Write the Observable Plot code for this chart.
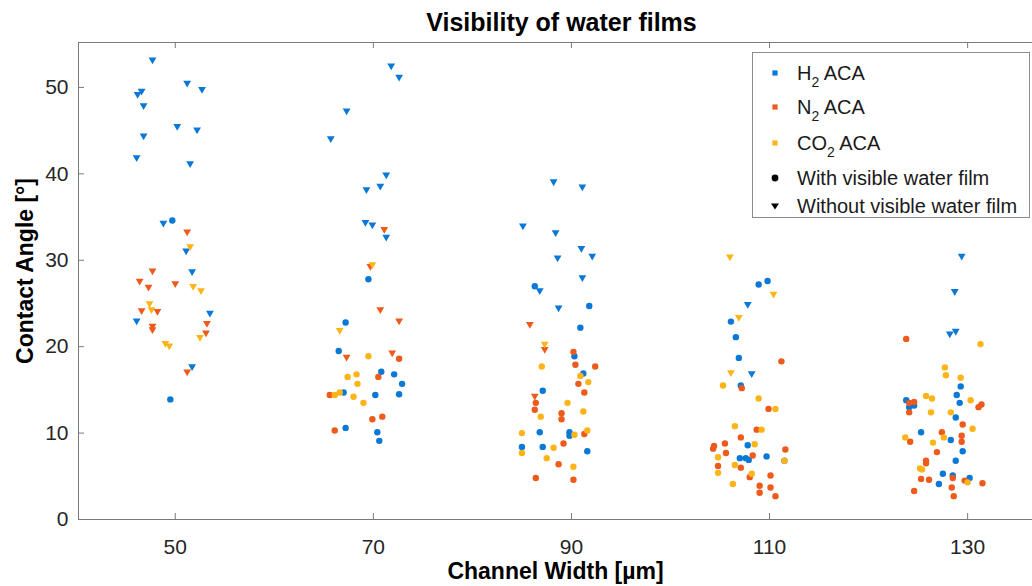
<!DOCTYPE html>
<html><head><meta charset="utf-8">
<script src="https://cdn.jsdelivr.net/npm/d3@7"></script>
<script src="https://cdn.jsdelivr.net/npm/@observablehq/plot@0.6"></script>
<style>
body{margin:0;background:#fff;font-family:"Liberation Sans",Arial,sans-serif;}
#wrap{position:relative;width:1032px;height:586px;overflow:hidden;background:#fff}
#legend{position:absolute;left:752px;top:52px;width:278px;height:166px;border:1px solid #8c8c8c;background:#fff;box-sizing:border-box;color:#1a1a1a;font-size:20px}
.row{position:absolute;left:0;width:276px;height:24px;line-height:24px;white-space:nowrap}
.row .lab{position:absolute;left:44px;top:0}
.row svg{position:absolute;left:14px;top:4px}
.sub{font-size:14px;position:relative;top:7px}
</style>
</head><body>
<div id="wrap"></div>
<script>
// Values: [channel width (µm, jittered), contact angle (°), visible water film (1) / not (0)]
const xTicks = [50, 70, 90, 110, 130];
const yTicks = [0, 10, 20, 30, 40, 50];
const gases = ["H2 ACA", "N2 ACA", "CO2 ACA"];
const colors = ["#0a78d6", "#ee5a1c", "#fdb418"];

const h2 = [
 [47.7,53.2,0],[51.2,50.5,0],[52.7,49.8,0],[46.6,49.6,0],[46.2,49.2,0],[46.8,47.9,0],[50.2,45.5,0],[52.2,45.1,0],[46.8,44.4,0],[46.1,41.9,0],[51.5,41.2,0],[48.8,34.3,0],[49.7,34.6,1],[51.1,31.1,0],[51.7,28.7,0],[53.5,23.9,0],[46.1,23.0,0],[51.7,17.7,0],[49.5,13.9,1],
 [71.8,52.5,0],[72.6,51.2,0],[67.3,47.3,0],[65.7,44.1,0],[71.3,39.9,0],[70.7,38.6,0],[69.3,38.2,0],[69.2,34.4,0],[69.9,34.1,0],[71.3,32.7,0],[69.5,27.8,1],[67.2,22.8,1],[66.5,19.5,1],[70.8,17.1,1],[72.1,16.8,1],[72.9,15.7,1],[67.0,14.7,1],[70.2,14.4,1],[72.6,14.5,1],[67.2,10.6,1],[70.4,10.1,1],[70.6,9.1,1],
 [88.2,39.1,0],[91.1,38.5,0],[85.1,34.0,0],[88.4,33.2,0],[91.0,31.4,0],[92.1,30.5,0],[88.6,30.3,0],[91.1,28.0,0],[86.3,27.0,1],[86.8,26.5,0],[88.7,24.5,0],[91.8,24.7,1],[90.9,22.2,1],[90.3,18.9,1],[91.2,16.9,1],[87.1,14.9,1],[89.8,10.1,1],[89.8,9.7,1],[86.8,10.1,1],[85.0,8.4,1],[87.1,8.4,1],[91.6,7.9,1],
 [108.9,27.2,1],[109.8,27.6,1],[107.8,24.9,0],[106.1,22.9,1],[106.6,21.1,1],[106.9,18.7,1],[108.2,16.9,0],[107.1,15.5,1],[107.8,8.6,1],[109.7,7.3,1],[107.0,7.1,1],[107.6,7.1,1],[107.9,6.9,1],[111.5,6.8,1],
 [129.4,30.5,0],[128.7,26.4,0],[128.8,21.8,0],[128.2,21.5,0],[129.3,15.4,1],[128.9,14.4,1],[123.8,13.8,1],[129.2,13.5,1],[124.6,13.2,1],[124.1,13.0,1],[128.8,11.8,1],[125.3,10.1,1],[128.3,9.2,1],[129.5,7.9,1],[128.8,6.8,1],[127.5,5.3,1],[128.5,5.1,1],[130.2,4.8,1],[127.1,4.1,1]
];
const n2 = [
 [51.2,33.3,0],[47.7,28.8,0],[46.4,27.6,0],[50.0,27.3,0],[47.3,26.9,0],[46.6,24.2,0],[48.2,24.1,0],[53.2,22.7,0],[47.7,22.4,0],[47.7,22.0,0],[53.1,21.6,0],[51.2,17.1,0],
 [71.1,33.6,0],[69.7,29.3,0],[70.7,24.3,0],[72.6,23.0,0],[67.3,18.8,0],[71.9,19.3,0],[72.6,18.6,1],[70.5,16.5,1],[65.6,14.4,1],[70.9,11.9,1],[69.9,11.6,1],[66.1,10.3,1],
 [85.8,22.6,0],[87.3,19.7,0],[90.2,19.4,1],[90.4,17.9,1],[92.4,17.7,1],[90.7,15.7,1],[91.3,14.7,1],[86.3,14.3,0],[86.4,13.5,1],[86.3,12.7,1],[89.0,12.3,1],[89.0,11.6,1],[91.3,9.9,1],[89.2,8.8,1],[88.7,6.4,1],[86.4,4.8,1],[90.2,4.6,1],
 [111.2,18.3,1],[107.2,15.2,1],[109.9,12.8,1],[108.7,10.4,1],[107.1,9.5,1],[105.5,8.8,1],[104.4,8.5,1],[104.3,8.2,1],[111.6,8.1,1],[105.6,7.7,1],[108.3,7.4,1],[104.8,6.2,1],[107.1,6.0,1],[108.0,4.9,1],[110.1,5.1,1],[109.0,3.9,1],[110.1,3.7,1],[109.0,3.1,1],[110.6,2.7,1],
 [123.8,20.9,1],[124.6,13.6,1],[124.1,13.5,1],[131.4,13.3,1],[131.1,13.0,1],[124.1,12.4,1],[129.5,11.0,1],[127.4,10.1,1],[129.4,9.7,1],[124.2,9.0,1],[129.4,9.0,1],[126.9,7.8,1],[125.8,6.8,1],[125.8,6.5,1],[128.5,4.8,1],[129.7,4.5,1],[131.5,4.2,1],[125.3,4.7,1],[126.1,4.6,1],[128.4,3.7,1],[124.6,3.3,1],[128.6,2.7,1]
];
const co2 = [
 [51.5,31.6,0],[51.8,27.0,0],[52.6,26.5,0],[47.4,25.0,0],[47.6,24.3,0],[52.5,21.1,0],[49.0,20.4,0],[49.4,20.1,0],
 [69.9,29.5,0],[66.6,21.9,0],[69.5,18.9,1],[68.3,16.8,1],[67.4,16.5,1],[68.4,15.7,1],[66.6,14.7,1],[66.1,14.4,1],[68.0,14.2,1],[69.0,13.5,1],
 [87.3,20.3,0],[87.0,17.7,1],[90.9,16.6,1],[91.7,15.9,1],[89.6,13.5,1],[91.2,12.5,1],[86.9,11.9,1],[91.6,10.3,1],[90.3,9.8,1],[85.0,10.0,1],[88.2,8.3,1],[85.0,7.7,1],[87.5,7.1,1],[90.2,6.1,1],
 [106.0,30.4,0],[110.4,26.1,0],[106.9,23.4,0],[106.1,17.0,0],[105.3,15.5,1],[108.9,14.0,1],[110.6,12.8,1],[106.5,10.8,1],[109.2,10.4,1],[108.5,8.7,1],[104.8,7.2,1],[111.5,6.8,1],[106.5,6.3,1],[104.8,5.4,1],[108.2,5.3,1],[106.3,4.1,1],
 [131.3,20.3,1],[127.7,17.6,1],[127.8,16.7,1],[129.3,16.4,1],[125.8,14.3,1],[126.4,14.0,1],[130.3,13.8,1],[126.3,12.4,1],[128.3,12.4,1],[130.5,10.5,1],[127.6,9.5,1],[123.7,9.5,1],[126.5,8.9,1],[125.2,5.9,1],[125.4,5.8,1],[130.0,4.3,1]
];

const series = [h2, n2, co2];
const W = 1032, H = 586, mT = 42, mL = 78, mR = 0, mB = 67;
const fH = H - mT - mB, fW = W - mL - mR;
const yMax = 55.2;
const axisColor = "#7a7a7a";

const dotMarks = [];
series.forEach((arr, i) => {
  const rows = arr.map(d => ({x: d[0], y: d[1], film: d[2]}));
  dotMarks.push(Plot.dot(rows.filter(d => !d.film), {x: "x", y: "y", symbol: "triangle", rotate: 180, r: 2.9, fill: colors[i], stroke: "none"}));
  dotMarks.push(Plot.dot(rows.filter(d => d.film), {x: "x", y: "y", symbol: "circle", r: 3.2, fill: colors[i], stroke: "none"}));
});

const plot = Plot.plot({
  width: W, height: H, marginTop: mT, marginLeft: mL, marginRight: mR, marginBottom: mB,
  x: {domain: [40.23, 136.55]},
  y: {domain: [0, yMax]},
  style: {fontFamily: "'Liberation Sans', Arial, sans-serif", color: "#262626", background: "white", overflow: "visible"},
  marks: [
    Plot.ruleY([0, yMax], {stroke: axisColor}),
    Plot.ruleX([40.23], {stroke: axisColor}),
    Plot.tickX(xTicks, {x: d => d, insetTop: fH - 6, stroke: axisColor}),
    Plot.tickX(xTicks, {x: d => d, insetBottom: fH - 6, stroke: axisColor}),
    Plot.tickY(yTicks, {y: d => d, insetRight: fW - 6, stroke: axisColor}),
    Plot.axisX({ticks: xTicks, tickSize: 0, tickPadding: 20, fontSize: 21, label: null}),
    Plot.axisY({ticks: yTicks, tickSize: 0, tickPadding: 10, fontSize: 21, label: null}),
    ...dotMarks,
    Plot.text(["Visibility of water films"], {text: d => d, frameAnchor: "top", lineAnchor: "middle", textAnchor: "middle", dy: -20, dx: 6, fontSize: 25, fontWeight: "bold", fill: "#000"}),
    Plot.text(["Channel Width [µm]"], {text: d => d, frameAnchor: "bottom", lineAnchor: "middle", textAnchor: "middle", dy: 52, fontSize: 23, fontWeight: "bold", fill: "#000"}),
    Plot.text(["Contact Angle [°]"], {text: d => d, frameAnchor: "left", lineAnchor: "middle", textAnchor: "middle", dx: -53, dy: -10, rotate: -90, fontSize: 23, fontWeight: "bold", fill: "#000"})
  ]
});
const wrap = document.getElementById("wrap");
wrap.appendChild(plot);

// Legend (HTML overlay, with subscripts)
const legend = document.createElement("div");
legend.id = "legend";
const tri = c => `<svg width="16" height="16" viewBox="-8 -8 16 16"><path d="M-4,-2.5L4,-2.5L0,3.5Z" fill="${c}"/></svg>`;
const sq = c => `<svg width="16" height="16" viewBox="-8 -8 16 16"><rect x="-2.6" y="-2.6" width="5.2" height="5.2" fill="${c}"/></svg>`;
const circ = c => `<svg width="16" height="16" viewBox="-8 -8 16 16"><circle r="3.4" fill="${c}"/></svg>`;
const legendRows = [
  {top: 8, icon: sq(colors[0]), html: `H<span class="sub">2</span> ACA`},
  {top: 42, icon: sq(colors[1]), html: `N<span class="sub">2</span> ACA`},
  {top: 78, icon: sq(colors[2]), html: `CO<span class="sub">2</span> ACA`},
  {top: 113, icon: circ("#000"), html: `With visible water film`},
  {top: 141, icon: tri("#000"), html: `Without visible water film`}
];
legendRows.forEach(r => {
  const d = document.createElement("div");
  d.className = "row";
  d.style.top = r.top + "px";
  d.innerHTML = r.icon + `<span class="lab">${r.html}</span>`;
  legend.appendChild(d);
});
wrap.appendChild(legend);
</script>
</body></html>
